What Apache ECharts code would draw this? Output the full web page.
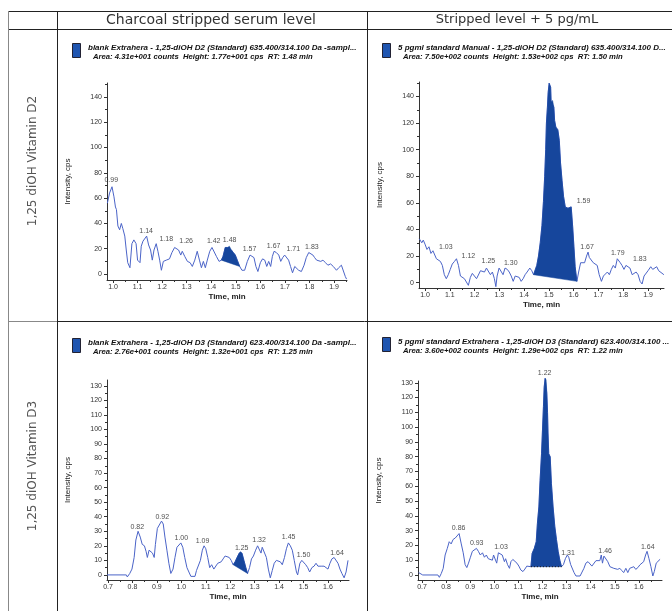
<!DOCTYPE html>
<html><head><meta charset="utf-8">
<script src="https://cdn.jsdelivr.net/npm/echarts@6/dist/echarts.min.js"></script>
<style>html,body{margin:0;padding:0;background:#fff}#c{width:672px;height:611px}</style>
</head><body><div id="c"></div><script>
// ---------- DATA ----------
const columnTitles = ['Charcoal stripped serum level', 'Stripped level + 5 pg/mL'];
const rowTitles = ['1,25 diOH Vitamin D2', '1,25 diOH Vitamin D3'];

const d2YTicks = [0, 20, 40, 60, 80, 100, 120, 140];
const d2YMinor = [10, 30, 50, 70, 90, 110, 130, 150];
const d2XTicks = [1.0, 1.1, 1.2, 1.3, 1.4, 1.5, 1.6, 1.7, 1.8, 1.9];
const d2XMinor = [1.05, 1.15, 1.25, 1.35, 1.45, 1.55, 1.65, 1.75, 1.85, 1.95];
const d3YTicks = [0, 10, 20, 30, 40, 50, 60, 70, 80, 90, 100, 110, 120, 130];
const d3YMinor = [5, 15, 25, 35, 45, 55, 65, 75, 85, 95, 105, 115, 125];
const d3XTicks = [0.7, 0.8, 0.9, 1.0, 1.1, 1.2, 1.3, 1.4, 1.5, 1.6];
const d3XMinor = [0.75, 0.85, 0.95, 1.05, 1.15, 1.25, 1.35, 1.45, 1.55, 1.65];

// [time (min), intensity (cps)]
const d2BlankTrace = [[0.977,56],[0.986,64],[0.996,69],[1.004,61],[1.01,53],[1.014,51],[1.02,38],[1.027,35],[1.034,40],[1.04,36],[1.048,30],[1.054,19],[1.06,9],[1.069,5],[1.077,24],[1.085,27],[1.094,24],[1.10,11],[1.11,9],[1.115,22],[1.122,26],[1.129,27],[1.137,30],[1.145,23],[1.153,19],[1.16,11],[1.167,19],[1.176,24],[1.183,18],[1.19,11],[1.197,3],[1.205,10],[1.217,11],[1.23,12],[1.24,17],[1.251,21],[1.259,22],[1.267,19],[1.276,15],[1.282,18],[1.292,14],[1.303,10],[1.314,9],[1.323,6],[1.333,11],[1.343,18],[1.352,11],[1.36,5],[1.368,10],[1.376,5],[1.384,11],[1.394,18],[1.403,21],[1.411,21],[1.421,14],[1.432,10],[1.441,11],[1.448,14],[1.457,21],[1.466,21],[1.474,22],[1.482,19],[1.49,17],[1.498,15],[1.506,11],[1.516,6],[1.525,3],[1.536,3],[1.547,10],[1.558,15],[1.566,16],[1.574,13],[1.582,6],[1.59,2],[1.6,9],[1.609,12],[1.618,11],[1.626,6],[1.634,10],[1.642,6],[1.649,14],[1.656,18],[1.665,17],[1.675,15],[1.683,10],[1.691,13],[1.699,15],[1.707,15],[1.715,11],[1.723,6],[1.731,1],[1.74,6],[1.748,6],[1.756,3],[1.767,2],[1.778,7],[1.787,13],[1.797,17],[1.805,18],[1.814,15],[1.821,13],[1.829,11],[1.837,12],[1.846,10],[1.855,11],[1.865,9],[1.875,7],[1.886,8],[1.897,6],[1.91,3],[1.919,5],[1.93,7],[1.938,6],[1.946,-2],[1.951,-4]];
const d2BlankPeak = [1.441, 1.516];
const d2BlankLabels = [[0.993,74,'0.99'],[1.135,34,'1.14'],[1.217,28,'1.18'],[1.298,26,'1.26'],[1.41,26,'1.42'],[1.475,27,'1.48'],[1.556,20,'1.57'],[1.654,22,'1.67'],[1.734,20,'1.71'],[1.81,21,'1.83']];

const d2SpikedTrace = [[0.977,33],[0.987,30],[0.993,32],[1.0,29],[1.008,25],[1.016,27],[1.024,22],[1.032,24],[1.04,25],[1.046,18],[1.054,19],[1.062,16],[1.07,13],[1.078,6],[1.086,3],[1.094,6],[1.102,10],[1.11,14],[1.119,16],[1.127,18],[1.135,13],[1.143,5],[1.151,4],[1.159,3],[1.167,3],[1.175,-2],[1.183,4],[1.191,7],[1.199,6],[1.208,3],[1.216,4],[1.224,9],[1.232,10],[1.24,8],[1.248,11],[1.256,10],[1.264,6],[1.272,8],[1.28,3],[1.286,-3],[1.291,5],[1.299,11],[1.307,10],[1.315,6],[1.323,11],[1.332,10],[1.34,8],[1.348,5],[1.356,1],[1.364,5],[1.372,5],[1.38,4],[1.388,1],[1.396,3],[1.404,6],[1.412,8],[1.423,11],[1.431,9],[1.438,6],[1.451,13],[1.458,20],[1.465,30],[1.472,43],[1.478,61],[1.483,80],[1.487,100],[1.49,120],[1.494,132],[1.497,143],[1.501,150],[1.507,147],[1.509,136],[1.515,137],[1.52,132],[1.523,122],[1.528,117],[1.536,115],[1.542,107],[1.547,90],[1.553,77],[1.559,65],[1.566,57],[1.577,56],[1.59,57],[1.596,42],[1.601,27],[1.606,12],[1.613,1],[1.62,8],[1.628,15],[1.636,16],[1.644,15],[1.652,20],[1.658,23],[1.663,19],[1.671,18],[1.679,15],[1.687,16],[1.695,13],[1.703,6],[1.712,1],[1.72,5],[1.728,5],[1.736,8],[1.744,6],[1.752,10],[1.76,13],[1.768,11],[1.776,18],[1.782,19],[1.788,15],[1.795,13],[1.803,10],[1.811,13],[1.819,14],[1.827,11],[1.836,6],[1.844,6],[1.852,8],[1.86,6],[1.868,1],[1.876,-1],[1.884,5],[1.892,6],[1.9,9],[1.911,12],[1.919,10],[1.927,9],[1.935,12],[1.943,9],[1.951,8],[1.964,6]];
const d2SpikedPeak = [1.438, 1.613];
const d2SpikedLabels = [[1.084,27,'1.03'],[1.175,20,'1.12'],[1.256,16,'1.25'],[1.346,15,'1.30'],[1.64,61.5,'1.59'],[1.654,27,'1.67'],[1.778,22,'1.79'],[1.867,18,'1.83']];

const d3BlankTrace = [[0.696,0],[0.775,0],[0.779,-1.4],[0.789,1],[0.798,4],[0.807,12],[0.814,24],[0.823,30],[0.832,26],[0.84,21],[0.849,20],[0.856,16],[0.861,12],[0.868,17],[0.875,18],[0.882,15],[0.889,12],[0.894,21],[0.902,32],[0.91,32],[0.919,37],[0.926,35],[0.933,26],[0.941,17],[0.949,8],[0.957,1],[0.966,4],[0.974,12],[0.982,19],[0.99,20],[0.998,22],[1.006,19],[1.014,12],[1.023,5],[1.031,2],[1.039,-1],[1.047,-1.4],[1.056,-1],[1.062,3],[1.069,4],[1.078,10],[1.086,17],[1.093,20],[1.1,18],[1.108,12],[1.116,5],[1.124,7],[1.133,4],[1.141,5],[1.149,8],[1.156,7],[1.163,9],[1.171,11],[1.179,13],[1.187,14],[1.196,12],[1.204,10],[1.212,7],[1.22,9],[1.228,12],[1.237,15],[1.242,16],[1.248,15],[1.256,10],[1.264,5],[1.271,1],[1.279,5],[1.287,11],[1.295,13],[1.304,17],[1.312,20],[1.32,19],[1.326,15],[1.331,19],[1.339,18],[1.348,12],[1.356,4],[1.364,-2],[1.372,3],[1.38,8],[1.389,10],[1.397,11],[1.405,9],[1.413,7],[1.422,12],[1.43,18],[1.438,22],[1.446,20],[1.454,17],[1.462,10],[1.471,2],[1.476,0],[1.485,8],[1.493,10],[1.5,10],[1.509,7],[1.517,5],[1.525,2],[1.534,5],[1.543,6],[1.551,8],[1.559,6],[1.567,6],[1.575,6],[1.584,6],[1.592,7],[1.6,4],[1.608,8],[1.616,11],[1.625,12],[1.633,11],[1.641,8],[1.649,4],[1.657,1],[1.666,-2],[1.674,2],[1.682,10]];
const d3BlankPeak = [1.212, 1.271];
const d3BlankLabels = [[0.82,33,'0.82'],[0.922,40,'0.92'],[1.0,25,'1.00'],[1.087,23.6,'1.09'],[1.247,18.6,'1.25'],[1.318,24,'1.32'],[1.439,26,'1.45'],[1.5,13.4,'1.50'],[1.637,15.2,'1.64']];

const d3SpikedTrace = [[0.686,1.6],[0.694,1],[0.703,0],[0.766,0],[0.772,-1.6],[0.78,1],[0.788,4.5],[0.796,13.5],[0.805,18],[0.813,22.5],[0.821,21],[0.829,24],[0.838,25],[0.846,26],[0.854,28],[0.863,21],[0.871,15],[0.879,7],[0.886,5],[0.893,8],[0.901,12],[0.909,16],[0.917,15],[0.926,18],[0.934,16],[0.942,13.5],[0.951,15],[0.959,12],[0.967,13.5],[0.975,11],[0.983,12],[0.992,10],[0.997,13.5],[1.005,13],[1.01,8],[1.017,15],[1.025,16],[1.033,13.5],[1.042,9],[1.047,11],[1.055,7],[1.063,4.5],[1.069,9],[1.077,10.5],[1.085,10],[1.094,8],[1.102,6],[1.11,3.4],[1.119,2.3],[1.127,4],[1.135,6],[1.143,5.6],[1.152,5.6],[1.157,14.6],[1.166,18],[1.174,22.5],[1.179,35],[1.185,46],[1.19,64],[1.196,82],[1.2,98],[1.204,114],[1.207,127],[1.211,133],[1.215,132],[1.218,123],[1.221,110],[1.223,96],[1.226,82],[1.232,80],[1.237,62],[1.244,46],[1.251,33],[1.258,24],[1.265,16],[1.272,10],[1.279,5.6],[1.287,7],[1.295,11],[1.303,13.5],[1.309,12],[1.317,7],[1.325,6],[1.331,1.6],[1.339,-0.7],[1.347,0],[1.356,-0.7],[1.364,0],[1.372,4.5],[1.38,8],[1.389,9],[1.397,8],[1.405,6],[1.413,6],[1.422,9.7],[1.43,10.6],[1.438,9.7],[1.444,13.5],[1.449,8],[1.455,12.8],[1.463,12],[1.471,9],[1.48,5.6],[1.488,6.8],[1.496,4.5],[1.504,5.6],[1.512,3.8],[1.521,4.5],[1.529,3],[1.537,1.6],[1.546,4.5],[1.554,1.6],[1.562,4.5],[1.57,3.4],[1.579,5.6],[1.587,3.8],[1.596,5],[1.604,6.8],[1.612,5.6],[1.62,9],[1.628,13.5],[1.634,16],[1.642,11],[1.65,5.6],[1.658,-0.7],[1.664,2.3],[1.672,8],[1.68,9],[1.688,10.6]];
const d3SpikedPeak = [1.152, 1.279];
const d3SpikedLabels = [[0.852,31.5,'0.86'],[0.927,21.4,'0.93'],[1.028,19,'1.03'],[1.306,15,'1.31'],[1.46,16,'1.46'],[1.637,19,'1.64'],[1.209,136.5,'1.22']];

const legendLine1 = [
  'blank Extrahera - 1,25-diOH D2 (Standard) 635.400/314.100 Da -sampl...',
  '5 pgml standard Manual - 1,25-diOH D2 (Standard) 635.400/314.100 D...',
  'blank Extrahera - 1,25-diOH D3 (Standard) 623.400/314.100 Da -sampl...',
  '5 pgml standard Extrahera - 1,25-diOH D3 (Standard) 623.400/314.100 ...'
];
const legendLine2 = [
  'Area: 4.31e+001 counts  Height: 1.77e+001 cps  RT: 1.48 min',
  'Area: 7.50e+002 counts  Height: 1.53e+002 cps  RT: 1.50 min',
  'Area: 2.76e+001 counts  Height: 1.32e+001 cps  RT: 1.25 min',
  'Area: 3.60e+002 counts  Height: 1.29e+002 cps  RT: 1.22 min'
];

// ---------- LAYOUT / STYLE ----------
const LINE = '#4b64c8', FILL = '#16469c', AX = '#333';
const FONT = 'Liberation Sans, Arial, sans-serif';
const panels = [
  {grid:{left:107, top:83, width:240, height:197}, x:[0.9756,1.9528], y:[-4.7,151], trace:d2BlankTrace, peak:d2BlankPeak, labels:d2BlankLabels, xt:d2XTicks, xm:d2XMinor, yt:d2YTicks, ym:d2YMinor, leg:[72,43]},
  {grid:{left:419, top:82, width:245, height:206}, x:[0.9758,1.9645], y:[-4,150.9], trace:d2SpikedTrace, peak:d2SpikedPeak, labels:d2SpikedLabels, xt:d2XTicks, xm:d2XMinor, yt:d2YTicks, ym:d2YMinor, leg:[382,43]},
  {grid:{left:107, top:380, width:242, height:200}, x:[0.6959,1.686], y:[-3.5,134], trace:d3BlankTrace, peak:d3BlankPeak, labels:d3BlankLabels, xt:d3XTicks, xm:d3XMinor, yt:d3YTicks, ym:d3YMinor, leg:[72,338]},
  {grid:{left:418, top:381, width:244, height:199}, x:[0.6834,1.696], y:[-3.4,131.2], trace:d3SpikedTrace, peak:d3SpikedPeak, labels:d3SpikedLabels, xt:d3XTicks, xm:d3XMinor, yt:d3YTicks, ym:d3YMinor, leg:[382,337], dashed:true}
];

const grids = [], xAxes = [], yAxes = [], series = [];
panels.forEach((p, i) => {
  grids.push(Object.assign({containLabel:false}, p.grid));
  xAxes[i] = {type:'value', gridIndex:i, position:'bottom', min:p.x[0], max:p.x[1], name:'Time, min', nameLocation:'middle', nameGap:13,
    nameTextStyle:{fontSize:8, color:'#222', fontFamily:FONT, fontWeight:'bold'},
    axisLine:{onZero:false, lineStyle:{color:AX, width:1}},
    axisTick:{customValues:p.xt, length:3, lineStyle:{color:AX}},
    axisLabel:{customValues:p.xt, formatter:v=>v.toFixed(1), fontSize:7, color:'#333', fontFamily:FONT, margin:4},
    splitLine:{show:false}};
  xAxes[4+i] = {type:'value', gridIndex:i, position:'bottom', offset:0, min:p.x[0], max:p.x[1], axisLine:{show:false, onZero:false}, axisLabel:{show:false},
    axisTick:{show:true, customValues:p.xm, length:2, lineStyle:{color:AX}}, splitLine:{show:false}};
  yAxes[i] = {type:'value', gridIndex:i, position:'left', min:p.y[0], max:p.y[1], name:'Intensity, cps', nameLocation:'middle', nameGap:35,
    nameTextStyle:{fontSize:8, color:'#222', fontFamily:FONT},
    axisLine:{show:true, onZero:false, lineStyle:{color:AX, width:1}},
    axisTick:{show:true, customValues:p.yt, length:3, lineStyle:{color:AX}},
    axisLabel:{customValues:p.yt, fontSize:7, color:'#333', fontFamily:FONT, margin:5},
    splitLine:{show:false}};
  yAxes[4+i] = {type:'value', gridIndex:i, position:'left', offset:0, min:p.y[0], max:p.y[1], axisLine:{show:false, onZero:false}, axisLabel:{show:false},
    axisTick:{show:true, customValues:p.ym.filter(v=>v<=p.y[1]), length:2, lineStyle:{color:AX}}, splitLine:{show:false}};

  series.push({type:'line', xAxisIndex:i, yAxisIndex:i, data:p.trace, showSymbol:false, symbol:'none', clip:false,
    lineStyle:{color:LINE, width:1}, animation:false, z:2});
  const pk = p.trace.filter(d => d[0] >= p.peak[0]-1e-9 && d[0] <= p.peak[1]+1e-9);
  series.push({type:'custom', xAxisIndex:i, yAxisIndex:i, data:pk, animation:false, z:3,
    renderItem:(params, api) => {
      if (params.dataIndex !== 0) return null;
      return {type:'polygon', shape:{points: pk.map(d => api.coord(d))}, style:{fill:FILL, stroke:FILL, lineWidth:0.5}};
    }});
  if (p.dashed) {
    series.push({type:'line', xAxisIndex:i, yAxisIndex:i, data:[pk[0], [pk[pk.length-1][0], pk[0][1]]], showSymbol:false, symbol:'none',
      lineStyle:{color:'#111', width:1, type:[1,2]}, animation:false, z:4});
  }
  series.push({type:'scatter', xAxisIndex:i, yAxisIndex:i, clip:false, symbolSize:1, itemStyle:{color:'transparent'},
    data:p.labels.map(l => ({value:[l[0], l[1]], name:l[2]})), animation:false, z:5,
    label:{show:true, position:'inside', formatter:q=>q.name, fontSize:7, color:'#222', fontFamily:FONT}});
});

// table, headers, legends
const gfx = [];
function hline(x1, x2, y, c){ gfx.push({type:'line', shape:{x1, y1:y, x2, y2:y}, style:{stroke:c, lineWidth:1}, silent:true}); }
function vline(x, y1, y2, c){ gfx.push({type:'line', shape:{x1:x, y1, x2:x, y2}, style:{stroke:c, lineWidth:1}, silent:true}); }
hline(8, 672, 11.5, '#222');
hline(8, 672, 29.5, '#222');
hline(8, 57, 321.5, '#888');
hline(57, 672, 321.5, '#222');
vline(8.5, 11, 611, '#888');
vline(57.5, 11, 611, '#222');
vline(367.5, 11, 611, '#222');
const headFonts = ['14px "DejaVu Sans", Verdana, sans-serif', '13px "DejaVu Sans", Verdana, sans-serif'];
columnTitles.forEach((t, i) => gfx.push({type:'text', x:[211, 517][i], y:20,
  style:{text:t, fill:'#333', font:headFonts[i], textAlign:'center', textVerticalAlign:'middle', align:'center', verticalAlign:'middle'}}));
rowTitles.forEach((t, i) => gfx.push({type:'text', x:33, y:[161, 466][i], rotation:Math.PI/2,
  style:{text:t, fill:'#555', font:'12px "DejaVu Sans", Verdana, sans-serif', textAlign:'center', textVerticalAlign:'middle', align:'center', verticalAlign:'middle'}}));
panels.forEach((p, i) => {
  const [lx, ly] = p.leg;
  gfx.push({type:'rect', shape:{x:lx+0.5, y:ly+0.5, width:8, height:14}, style:{fill:'#1f55b0', stroke:'#223', lineWidth:1}});
  gfx.push({type:'text', x:lx+16, y:ly+5, style:{text:legendLine1[i], fill:'#111', font:'italic bold 8px "Liberation Sans", Arial, sans-serif', textVerticalAlign:'middle', verticalAlign:'middle'}});
  gfx.push({type:'text', x:lx+21, y:ly+14, style:{text:legendLine2[i], fill:'#111', font:'italic bold 7.7px "Liberation Sans", Arial, sans-serif', textVerticalAlign:'middle', verticalAlign:'middle'}});
});

const chart = echarts.init(document.getElementById('c'), null, {renderer:'canvas'});
chart.setOption({animation:false, backgroundColor:'#fff', grid:grids, xAxis:xAxes, yAxis:yAxes, series, graphic:{elements:gfx}});
</script></body></html>
